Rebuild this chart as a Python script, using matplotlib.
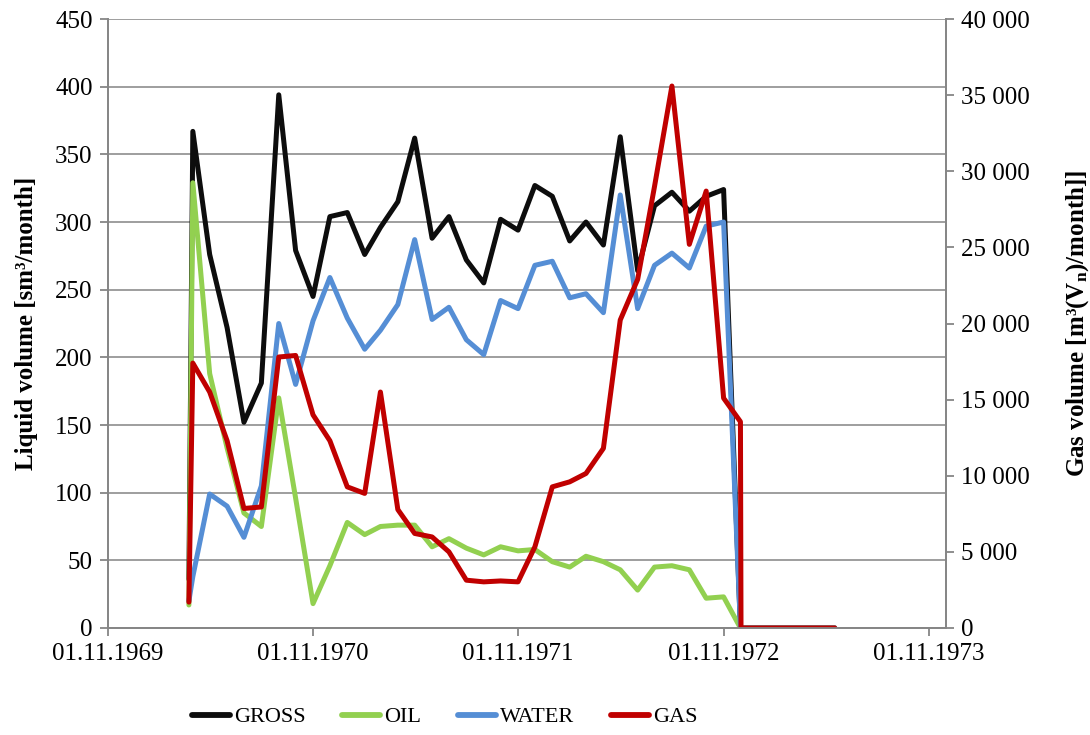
import numpy as np
import pandas as pd
import matplotlib
matplotlib.use("Agg")
import matplotlib.pyplot as plt
import matplotlib.dates as mdates
from matplotlib.ticker import FuncFormatter, MultipleLocator

plt.rcParams['font.family'] = ['Liberation Serif', 'DejaVu Serif']
plt.rcParams['mathtext.fontset'] = 'custom'
plt.rcParams['mathtext.rm'] = 'Liberation Serif:bold'
plt.rcParams['mathtext.it'] = 'Liberation Serif:bold'
plt.rcParams['mathtext.bf'] = 'Liberation Serif:bold'

# monthly production, first entry is a short start-up week
dates = (["1970-03-25"]
         + [d.strftime("%Y-%m-%d") for d in pd.date_range("1970-04-01", "1972-12-01", freq="MS")]
         + ["1972-12-02", "1973-05-18"])

gross = [36, 367, 276, 222, 152, 181, 394, 279, 245, 304, 307, 276, 296, 315, 362, 288,
         304, 272, 255, 302, 294, 327, 319, 286, 300, 283, 363, 264, 312, 322, 308, 319,
         324, 0, 0, 0]
oil = [17, 329, 188, 133, 85, 75, 170, 96, 18, 46, 78, 69, 75, 76, 76, 60,
       66, 59, 54, 60, 57, 58, 49, 45, 53, 49, 43, 28, 45, 46, 43, 22,
       23, 0, 0, 0]
water = [20, 38, 99, 90, 67, 105, 225, 180, 227, 259, 229, 206, 220, 239, 287, 228,
         237, 213, 202, 242, 236, 268, 271, 244, 247, 233, 320, 236, 268, 277, 266, 297,
         300, 0, 0, 0]
gas = [1700, 17400, 15500, 12300, 7850, 7950, 17800, 17900, 14000, 12300, 9270, 8840,
       15500, 7780, 6210, 5980, 5000, 3140, 3030, 3090, 3030, 5330, 9270, 9600, 10150,
       11800, 20230, 22900, 29000, 35600, 25200, 28700, 15100, 13550, 0, 0]

x = pd.to_datetime(dates)

fig = plt.figure(figsize=(10.9, 7.35), dpi=100)
ax = fig.add_axes([0.0991, 0.1456, 0.7688, 0.8285])
ax2 = ax.twinx()

lw = 3.6
style = dict(linewidth=lw, solid_capstyle='round', solid_joinstyle='round')
l1, = ax.plot(x, gross, color='#0d0d0d', label='GROSS', **style)
l2, = ax.plot(x, oil, color='#92d050', label='OIL', **style)
l3, = ax.plot(x, water, color='#558ed5', label='WATER', **style)
l4, = ax2.plot(x, gas, color='#c00000', label='GAS', **style)

ax.set_ylim(0, 450)
ax.yaxis.set_major_locator(MultipleLocator(50))
ax2.set_ylim(0, 40000)
ax2.yaxis.set_major_locator(MultipleLocator(5000))
ax2.yaxis.set_major_formatter(FuncFormatter(lambda v, p: f"{int(v):,}".replace(",", " ")))

ax.set_xlim(pd.Timestamp("1969-11-01"), pd.Timestamp("1973-12-02"))
ax.set_xticks(pd.to_datetime(["1969-11-01", "1970-11-01", "1971-11-01",
                              "1972-11-01", "1973-11-01"]))
ax.xaxis.set_major_formatter(mdates.DateFormatter("%d.%m.%Y"))

ax.grid(axis='y', color='#969696', linewidth=1.3)
ax.set_axisbelow(True)

for a in (ax, ax2):
    a.spines['top'].set_visible(False)
    for s in ('left', 'right', 'bottom'):
        a.spines[s].set_color('#868686')
        a.spines[s].set_linewidth(1.3)
    a.tick_params(labelsize=18, color='#868686', width=1.3, length=6, pad=5)

ax.set_ylabel("Liquid volume [sm³/month]", fontsize=18, fontweight='bold')
ax.yaxis.set_label_coords(-0.0835, 0.5)
ax2.set_ylabel(r"Gas volume [m³($\mathrm{V_n}$)/month]]", fontsize=18, fontweight='bold',
               rotation=90)
ax2.yaxis.set_label_coords(1.141, 0.5)

leg = fig.legend(handles=[l1, l2, l3, l4], loc='center', bbox_to_anchor=(0.408, 1 - 717 / 735),
                 ncol=4, frameon=False, fontsize=16, handlelength=1.71, handletextpad=0.2,
                 columnspacing=1.63)
for h in leg.get_lines():
    h.set_linewidth(4.2)

fig.savefig("out.png", dpi=100)
